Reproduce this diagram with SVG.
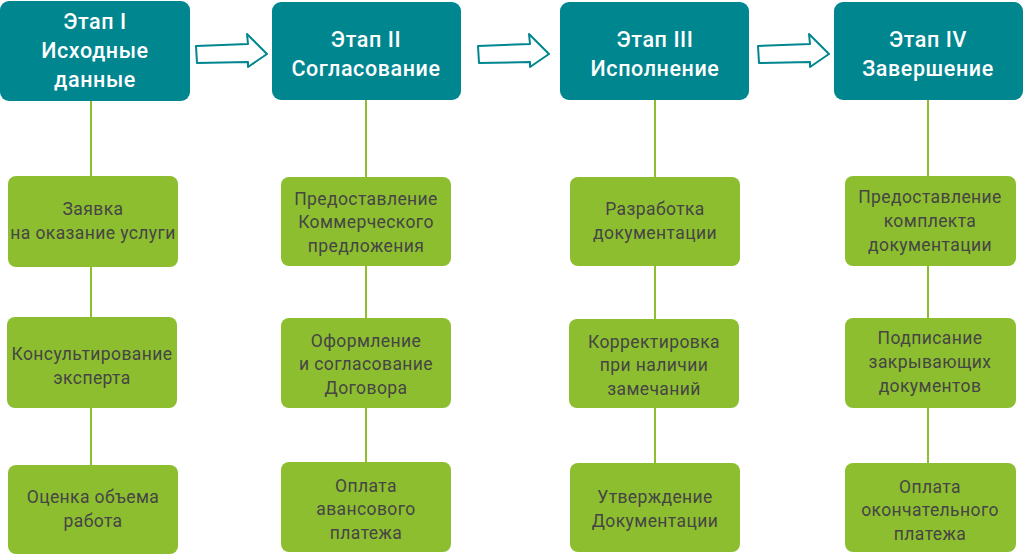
<svg xmlns="http://www.w3.org/2000/svg" width="1024" height="556" viewBox="0 0 1024 556">
<style>
.h{fill:#00868f}
.g{fill:#8dbe2f}
.ht{font-family:Roboto,"Noto Sans",sans-serif;font-weight:500;font-size:21.5px;fill:#fff;text-anchor:middle;letter-spacing:0.6px}
.gt{font-family:Roboto,"Noto Sans",sans-serif;font-size:17.5px;fill:#454545;text-anchor:middle;letter-spacing:0.4px}
.ln{stroke:#8dbe2f;stroke-width:2;fill:none}
.ar{fill:#fff;stroke:#00868f;stroke-width:2;stroke-linejoin:round}
</style>
<rect width="1024" height="556" fill="#fff"/>
<g id="connectors">
<line class="ln" x1="91" y1="100" x2="91" y2="466"/>
<line class="ln" x1="366" y1="100" x2="366" y2="464"/>
<line class="ln" x1="655" y1="100" x2="655" y2="464"/>
<line class="ln" x1="928" y1="100" x2="928" y2="464"/>
<path class="ar" d="M196,46 L248,44 L247,34 L267,54 L248,67 L248,62 L197,63 Z"/>
<path class="ar" d="M478,46 L530,44 L529,34 L549,54 L530,67 L530,62 L479,63 Z"/>
<path class="ar" d="M758,46 L810,44 L809,34 L829,54 L810,67 L810,62 L759,63 Z"/>
</g>
<g id="stage1">
<rect class="h" x="0" y="1" width="190" height="100" rx="9"/>
<text class="ht" x="95" y="29">Этап I</text>
<text class="ht" x="95" y="58">Исходные</text>
<text class="ht" x="95" y="87">данные</text>
</g>
<g id="stage2">
<rect class="h" x="272" y="2" width="189" height="98" rx="9"/>
<text class="ht" x="366" y="47">Этап II</text>
<text class="ht" x="366" y="76">Согласование</text>
</g>
<g id="stage3">
<rect class="h" x="560" y="2" width="189" height="98" rx="9"/>
<text class="ht" x="655" y="47">Этап III</text>
<text class="ht" x="655" y="76">Исполнение</text>
</g>
<g id="stage4">
<rect class="h" x="834" y="2" width="189" height="98" rx="9"/>
<text class="ht" x="928" y="47">Этап IV</text>
<text class="ht" x="928" y="76">Завершение</text>
</g>
<g id="n1a"><rect class="g" x="8" y="176" width="170" height="91" rx="8"/>
<text class="gt" x="93" y="215">Заявка</text><text class="gt" x="93" y="239">на оказание услуги</text></g>
<g id="n1b"><rect class="g" x="7" y="317" width="170" height="91" rx="8"/>
<text class="gt" x="92" y="360">Консультирование</text><text class="gt" x="92" y="384">эксперта</text></g>
<g id="n1c"><rect class="g" x="8" y="465" width="170" height="89" rx="8"/>
<text class="gt" x="93" y="503">Оценка объема</text><text class="gt" x="93" y="527">работа</text></g>
<g id="n2a"><rect class="g" x="281" y="177" width="170" height="89" rx="8"/>
<text class="gt" x="366" y="205">Предоставление</text><text class="gt" x="366" y="228">Коммерческого</text><text class="gt" x="366" y="252">предложения</text></g>
<g id="n2b"><rect class="g" x="281" y="318" width="170" height="90" rx="8"/>
<text class="gt" x="366" y="347">Оформление</text><text class="gt" x="366" y="370">и согласование</text><text class="gt" x="366" y="394">Договора</text></g>
<g id="n2c"><rect class="g" x="281" y="462" width="170" height="90" rx="8"/>
<text class="gt" x="366" y="492">Оплата</text><text class="gt" x="366" y="515">авансового</text><text class="gt" x="366" y="539">платежа</text></g>
<g id="n3a"><rect class="g" x="570" y="177" width="170" height="89" rx="8"/>
<text class="gt" x="655" y="215">Разработка</text><text class="gt" x="655" y="239">документации</text></g>
<g id="n3b"><rect class="g" x="569" y="319" width="170" height="89" rx="8"/>
<text class="gt" x="654" y="348">Корректировка</text><text class="gt" x="654" y="371">при наличии</text><text class="gt" x="654" y="395">замечаний</text></g>
<g id="n3c"><rect class="g" x="570" y="463" width="170" height="89" rx="8"/>
<text class="gt" x="655" y="503">Утверждение</text><text class="gt" x="655" y="527">Документации</text></g>
<g id="n4a"><rect class="g" x="845" y="176" width="171" height="90" rx="8"/>
<text class="gt" x="930" y="203">Предоставление</text><text class="gt" x="930" y="227">комплекта</text><text class="gt" x="930" y="251">документации</text></g>
<g id="n4b"><rect class="g" x="845" y="318" width="171" height="90" rx="8"/>
<text class="gt" x="930" y="344">Подписание</text><text class="gt" x="930" y="368">закрывающих</text><text class="gt" x="930" y="392">документов</text></g>
<g id="n4c"><rect class="g" x="845" y="463" width="171" height="89" rx="8"/>
<text class="gt" x="930" y="493">Оплата</text><text class="gt" x="930" y="516">окончательного</text><text class="gt" x="930" y="540">платежа</text></g>
</svg>
